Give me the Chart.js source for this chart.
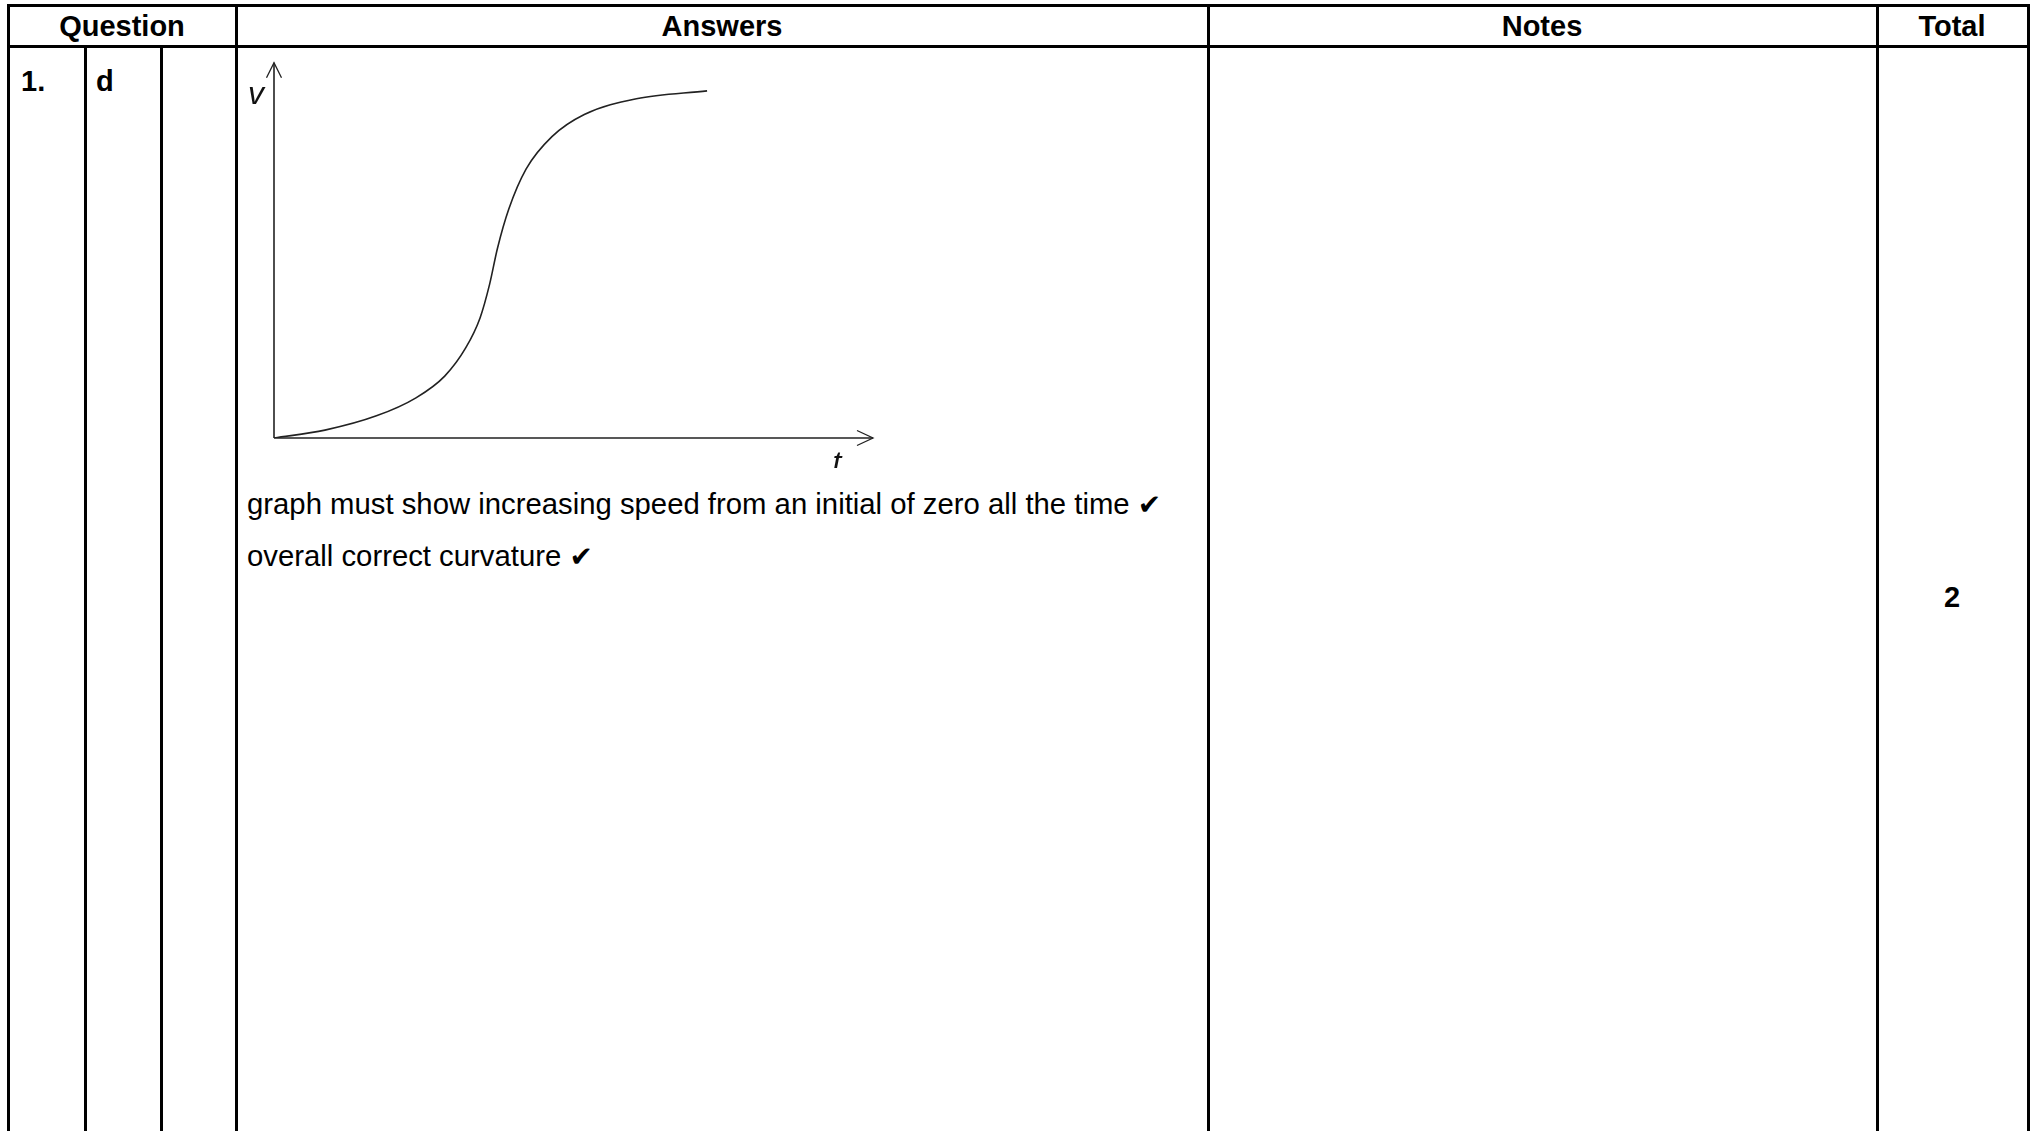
<!DOCTYPE html>
<html>
<head>
<meta charset="utf-8">
<script src="https://cdn.jsdelivr.net/npm/chart.js@4.4.0/dist/chart.umd.min.js"></script>
<style>
  html, body { margin: 0; padding: 0; background: #fff; width: 2038px; height: 1131px; overflow: hidden; }
  body { position: relative; font-family: "Liberation Sans", Arial, sans-serif; color: #000; }
  .hl { position: absolute; background: #000; height: 2.5px; }
  .vl { position: absolute; background: #000; width: 2.5px; }
  .txt { position: absolute; font-size: 29px; line-height: 1; white-space: nowrap; }
  .reg { font-size: 29.3px; }
  .b { font-weight: bold; }
  .c { transform: translate(-50%, -50%); }
  .l { transform: translate(0, -50%); }
  .chk { font-family: "DejaVu Sans", sans-serif; font-size: 28px; }
  #wrap { position: absolute; left: 236px; top: 48px; width: 700px; height: 420px; }
</style>
</head>
<body>
<!-- table lines -->
<div class="hl" style="left:7px; top:4px; width:2023px;"></div>
<div class="hl" style="left:7px; top:45px; width:2023px;"></div>
<div class="vl" style="left:7px; top:4px; height:1127px;"></div>
<div class="vl" style="left:84px; top:45px; height:1086px;"></div>
<div class="vl" style="left:160px; top:45px; height:1086px;"></div>
<div class="vl" style="left:235px; top:4px; height:1127px;"></div>
<div class="vl" style="left:1207px; top:4px; height:1127px;"></div>
<div class="vl" style="left:1876px; top:4px; height:1127px;"></div>
<div class="vl" style="left:2027px; top:4px; height:1127px;"></div>

<div class="txt b c" style="left:122px; top:26px;">Question</div>
<div class="txt b c" style="left:722px; top:26px;">Answers</div>
<div class="txt b c" style="left:1542px; top:26px;">Notes</div>
<div class="txt b c" style="left:1952px; top:26px;">Total</div>

<div class="txt b l" style="left:21px; top:81px;">1.</div>
<div class="txt b l" style="left:96px; top:81px;">d</div>
<div class="txt b c" style="left:1952px; top:597px;">2</div>

<div class="txt reg l" style="left:247px; top:504px;">graph must show increasing speed from an initial of zero all the time <span class="chk">✔</span></div>
<div class="txt reg l" style="left:247px; top:556px;">overall correct curvature <span class="chk">✔</span></div>

<div id="wrap"><canvas id="c" width="700" height="420"></canvas></div>

<script>
// Curve (t and v in axis units, 0..100 = arrow tips)
const tValues = [0, 8.5, 17.1, 23.7, 28.5, 32.0, 34.4, 36.0, 37.3, 39.2, 42.1, 46.4, 51.8, 60.5, 72.3];
const vValues = [0, 2.1, 5.9, 10.7, 16.5, 24.0, 32.0, 41.0, 50.5, 61.0, 71.7, 80.3, 86.2, 90.4, 92.5];
const axisLabels = { x: "t", y: "v" };
const axisMax = 100;

const points = tValues.map((t, i) => ({ x: t, y: vValues[i] }));

const axesPlugin = {
  id: "arrowAxes",
  beforeDatasetsDraw(chart) {
    const ctx = chart.ctx;
    const xs = chart.scales.x, ys = chart.scales.y;
    const x0 = xs.getPixelForValue(0), y0 = ys.getPixelForValue(0);
    const xEnd = xs.getPixelForValue(axisMax), yEnd = ys.getPixelForValue(axisMax);
    ctx.save();
    ctx.strokeStyle = "#222";
    ctx.lineWidth = 1.6;
    ctx.lineCap = "butt";
    ctx.beginPath();
    ctx.moveTo(x0, y0); ctx.lineTo(x0, yEnd);
    ctx.moveTo(x0, y0); ctx.lineTo(xEnd, y0);
    ctx.stroke();
    ctx.lineWidth = 1.3;
    ctx.beginPath();
    ctx.moveTo(x0 - 7.5, yEnd + 15); ctx.lineTo(x0, yEnd); ctx.lineTo(x0 + 7.5, yEnd + 15);
    ctx.moveTo(xEnd - 16, y0 - 7.5); ctx.lineTo(xEnd, y0); ctx.lineTo(xEnd - 16, y0 + 7.5);
    ctx.stroke();
    ctx.fillStyle = "#111";
    ctx.font = "italic 32px 'Liberation Sans', Arial, sans-serif";
    ctx.textAlign = "center";
    ctx.textBaseline = "middle";
    ctx.fillText(axisLabels.y, x0 - 18, ys.getPixelForValue(91.5));
    ctx.fillText(axisLabels.x, xs.getPixelForValue(94), y0 + 26);
    ctx.restore();
  }
};

new Chart(document.getElementById("c"), {
  type: "line",
  data: {
    datasets: [{
      data: points,
      borderColor: "#222",
      borderWidth: 1.6,
      pointRadius: 0,
      fill: false,
      cubicInterpolationMode: "monotone"
    }]
  },
  options: {
    responsive: false,
    animation: false,
    devicePixelRatio: 1,
    layout: { padding: { left: 38, top: 14.7, right: 63, bottom: 30 } },
    plugins: { legend: { display: false }, tooltip: { enabled: false }, title: { display: false } },
    scales: {
      x: { type: "linear", min: 0, max: axisMax, display: false },
      y: { type: "linear", min: 0, max: axisMax, display: false }
    }
  },
  plugins: [axesPlugin]
});
</script>
</body>
</html>
